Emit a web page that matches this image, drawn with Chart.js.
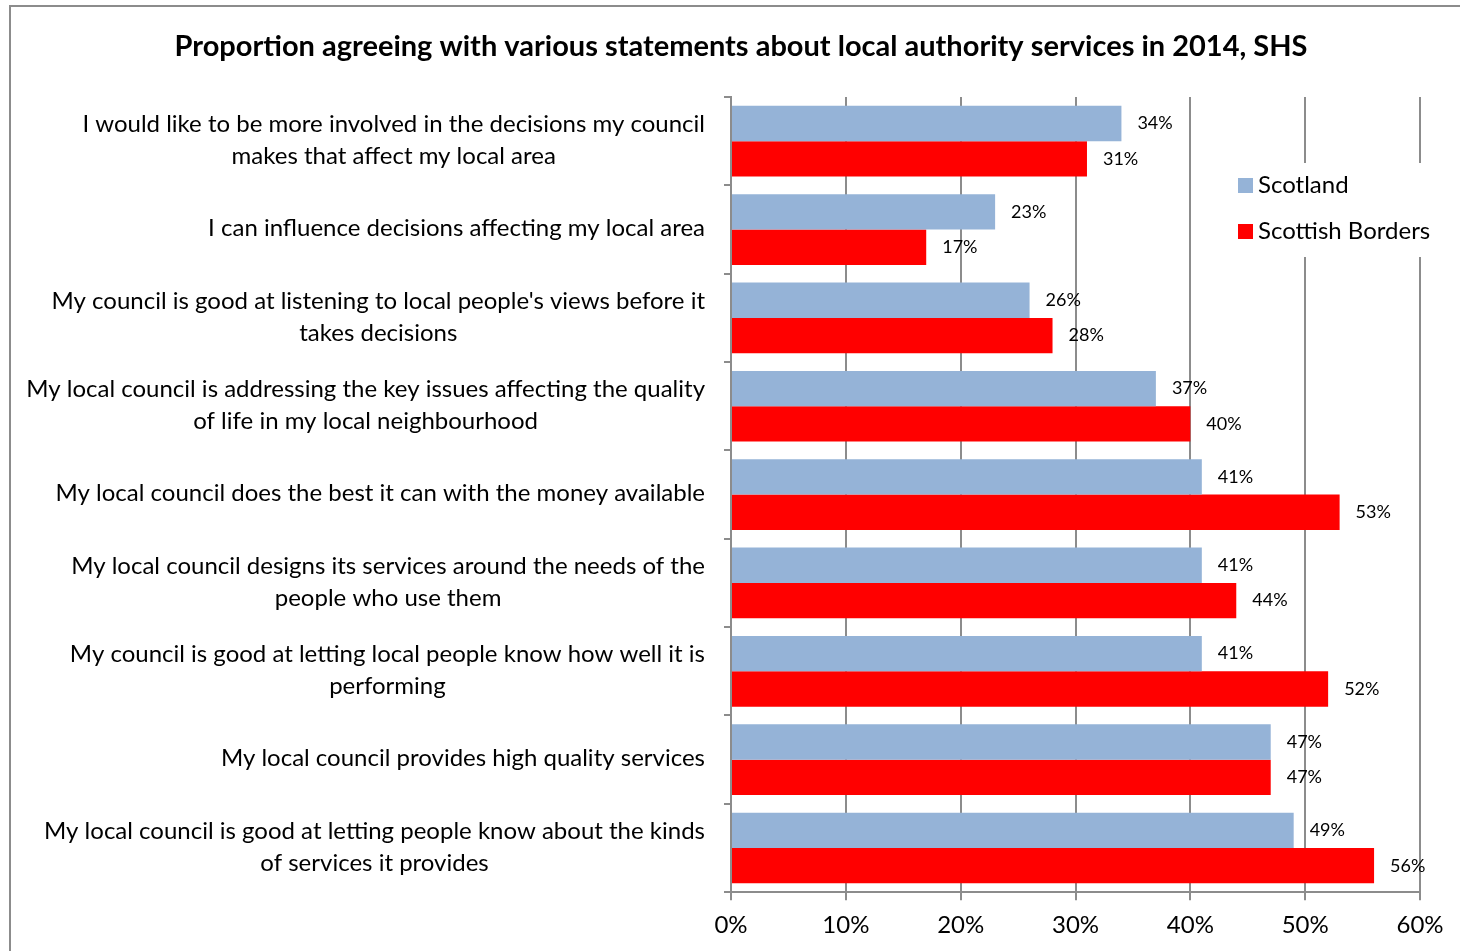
<!DOCTYPE html>
<html>
<head>
<meta charset="utf-8">
<script src="https://cdn.jsdelivr.net/npm/chart.js@4.4.1/dist/chart.umd.min.js"></script>
<style>
  html, body { margin: 0; padding: 0; background: #fff; overflow: hidden; }
  #wrap { position: absolute; left: 9px; top: 5px; width: 1460px; height: 946px;
          border-left: 2px solid #8c8c8c; border-top: 2px solid #8c8c8c; }
</style>
</head>
<body>
<div id="wrap"><canvas id="myChart" width="1460" height="946"></canvas></div>
<script>
// statements, top to bottom
var statements = [
  ['I would like to be more involved in the decisions my council', 'makes that affect my local area'],
  ['I can influence decisions affecting my local area'],
  ["My council is good at listening to local people's views before it", 'takes decisions'],
  ['My local council is addressing the key issues affecting the quality', 'of life in my local neighbourhood'],
  ['My local council does the best it can with the money available'],
  ['My local council designs its services around the needs of the', 'people who use them'],
  ['My council is good at letting local people know how well it is', 'performing'],
  ['My local council provides high quality services'],
  ['My local council is good at letting people know about the kinds', 'of services it provides']
];
var scotland = [34, 23, 26, 37, 41, 41, 41, 47, 49];
var borders = [31, 17, 28, 40, 53, 44, 52, 47, 56];
var xTicks = [0, 10, 20, 30, 40, 50, 60];
var chartTitle = 'Proportion agreeing with various statements about local authority services in 2014, SHS';

var fontName = 'Lato, "Open Sans", sans-serif';

// title centred on the whole frame, not the padded box
var titlePlugin = {
  id: 'frameTitle',
  afterDraw: function(chart) {
    var ctx = chart.ctx;
    ctx.save();
    ctx.font = 'bold 29px ' + fontName;
    ctx.fillStyle = '#000';
    ctx.textAlign = 'center';
    ctx.textBaseline = 'middle';
    ctx.fillText(chartTitle, chart.width / 2, 40);
    ctx.restore();
  }
};

// draws the category labels: block right aligned, lines centred
var labelPlugin = {
  id: 'labels',
  afterDraw: function(chart) {
    var ctx = chart.ctx;
    var y = chart.scales.y;
    ctx.save();
    ctx.font = '24px ' + fontName;
    ctx.fillStyle = '#000';
    ctx.textAlign = 'center';
    ctx.textBaseline = 'middle';
    var lh = 32;
    statements.forEach(function(lines, i) {
      var w = 0;
      lines.forEach(function(l) { w = Math.max(w, ctx.measureText(l).width); });
      var cx = chart.chartArea.left - 26 - w / 2;
      var cy = y.getPixelForValue(i) - 1;
      lines.forEach(function(l, j) {
        ctx.fillText(l, cx, cy + (j - (lines.length - 1) / 2) * lh);
      });
    });
    ctx.restore();
  }
};

var valuePlugin = {
  id: 'values',
  afterDatasetsDraw: function(chart) {
    var ctx = chart.ctx;
    ctx.save();
    ctx.font = '18px ' + fontName;
    ctx.fillStyle = '#000';
    ctx.textAlign = 'left';
    ctx.textBaseline = 'middle';
    chart.data.datasets.forEach(function(ds, di) {
      chart.getDatasetMeta(di).data.forEach(function(bar, i) {
        ctx.fillText(ds.data[i] + '%', bar.x + 16, bar.y);
      });
    });
    ctx.restore();
  }
};

var legendPlugin = {
  id: 'boxLegend',
  afterDraw: function(chart) {
    var ctx = chart.ctx;
    ctx.save();
    ctx.fillStyle = '#fff';
    ctx.fillRect(1192, 156, 250, 94);
    ctx.font = '24px ' + fontName;
    ctx.textBaseline = 'middle';
    chart.data.datasets.forEach(function(ds, i) {
      var yy = 178 + i * 46;
      ctx.fillStyle = ds.backgroundColor;
      ctx.fillRect(1227, yy - 7, 15, 15);
      ctx.fillStyle = '#000';
      ctx.fillText(ds.label, 1247, yy);
    });
    ctx.restore();
  }
};

var ctx = document.getElementById('myChart').getContext('2d');
new Chart(ctx, {
  type: 'bar',
  data: {
    labels: statements,
    datasets: [{
      label: 'Scotland',
      data: scotland,
      backgroundColor: '#95b3d7',
      categoryPercentage: 0.8,
      barPercentage: 1.0
    }, {
      label: 'Scottish Borders',
      data: borders,
      backgroundColor: '#ff0000',
      categoryPercentage: 0.8,
      barPercentage: 1.0
    }]
  },
  options: {
    indexAxis: 'y',
    responsive: false,
    animation: false,
    layout: { padding: { left: 0, right: 51, top: 90, bottom: 2 } },
    plugins: {
      legend: { display: false },
      tooltip: { enabled: false },
      title: { display: false }
    },
    scales: {
      x: {
        min: 0,
        max: 60,
        afterBuildTicks: function(scale) {
          scale.ticks = xTicks.map(function(v) { return { value: v }; });
        },
        ticks: {
          color: '#000',
          font: { family: fontName, size: 24 },
          padding: 11,
          callback: function(v) { return v + '%'; }
        },
        grid: { color: '#8c8c8c', lineWidth: 2, tickLength: 8 },
        border: { color: '#8c8c8c', width: 2 }
      },
      y: {
        afterFit: function(scale) { scale.width = 720; },
        ticks: { display: false },
        grid: { drawOnChartArea: false, color: '#8c8c8c', lineWidth: 2, tickLength: 7, offset: true },
        border: { color: '#8c8c8c', width: 2 }
      }
    }
  },
  plugins: [titlePlugin, labelPlugin, valuePlugin, legendPlugin]
});
</script>
</body>
</html>
